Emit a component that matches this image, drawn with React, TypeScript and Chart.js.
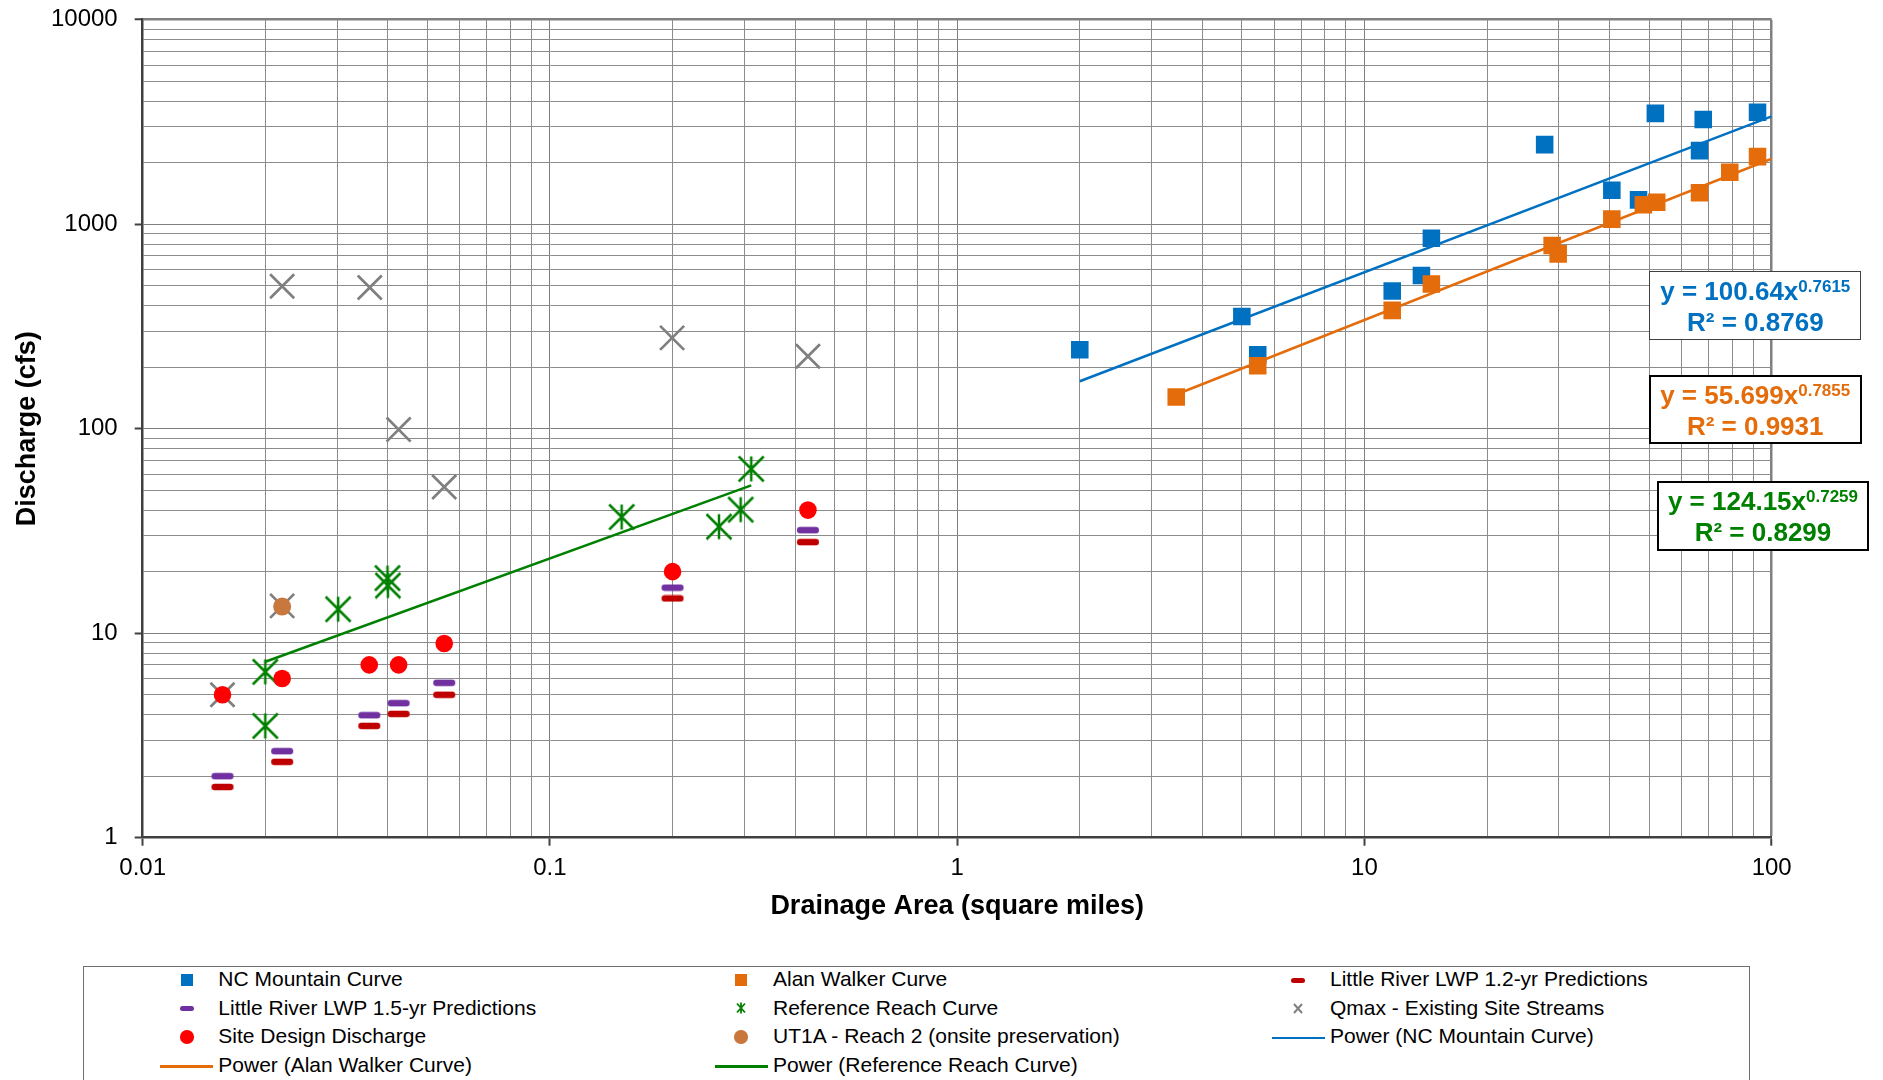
import React, { useEffect, useRef } from 'react';
import { Chart, registerables } from 'chart.js';

Chart.register(...registerables);

const FONT = '"Liberation Sans", Arial, Helvetica, sans-serif';
const W = 1883;
const H = 1080;

// ---------- data (drainage area in sq mi, discharge in cfs) ----------
const ncArea = [2.0, 5.0, 5.47, 11.7, 13.8, 14.6, 27.7, 40.5, 47.1, 51.8, 66.5, 67.9, 92.3];
const ncQ = [243, 354, 230, 471, 561, 853, 2450, 1466, 1315, 3483, 2290, 3253, 3530];

const awArea = [3.45, 5.47, 11.7, 14.6, 28.9, 29.9, 40.5, 48.4, 52.2, 66.5, 78.9, 92.3];
const awQ = [143, 203, 379, 510, 787, 716, 1059, 1245, 1280, 1426, 1795, 2140];

const siteArea = [0.0157, 0.022, 0.036, 0.0425, 0.055, 0.2, 0.43];
const lr12Q = [1.77, 2.35, 3.52, 4.03, 5.0, 14.8, 27.9];
const lr15Q = [2.0, 2.65, 3.97, 4.55, 5.72, 16.7, 31.9];
const siteQ = [5.0, 6.0, 7.0, 7.0, 8.9, 20, 40];

const refArea = [0.02, 0.02, 0.0302, 0.0399, 0.04, 0.15, 0.26, 0.294, 0.312];
const refQ = [6.47, 3.52, 13.1, 18.6, 17.1, 37.0, 33.2, 40.2, 63.6];

const qmaxArea = [0.0157, 0.022, 0.022, 0.0361, 0.0425, 0.055, 0.1995, 0.43];
const qmaxQ = [5.0, 13.6, 497, 490, 99, 51.9, 278, 226];

const ut1aArea = [0.022];
const ut1aQ = [13.5];

// trendline end points
const ncFitArea = [2.0, 100];
const ncFitQ = [170.6, 3370];
const awFitArea = [3.45, 100];
const awFitQ = [147, 2090];
const refFitArea = [0.02, 0.312];
const refFitQ = [7.25, 52.8];

// axes
const xDecades = [0.01, 0.1, 1, 10, 100];
const xDecadeLabels = ['0.01', '0.1', '1', '10', '100'];
const yDecades = [1, 10, 100, 1000, 10000];
const yDecadeLabels = ['1', '10', '100', '1000', '10000'];
const xTitle = 'Drainage Area (square miles)';
const yTitle = 'Discharge (cfs)';

// trendline equations
const fitCoef = ['100.64', '55.699', '124.15'];
const fitExp = ['0.7615', '0.7855', '0.7259'];
const fitR2 = ['0.8769', '0.9931', '0.8299'];

// legend
const legendLabels = [
  'NC Mountain Curve',
  'Alan Walker Curve',
  'Little River LWP 1.2-yr Predictions',
  'Little River LWP 1.5-yr Predictions',
  'Reference Reach Curve',
  'Qmax - Existing Site Streams',
  'Site Design Discharge',
  'UT1A - Reach 2 (onsite preservation)',
  'Power (NC Mountain Curve)',
  'Power (Alan Walker Curve)',
  'Power (Reference Reach Curve)',
];

const BLUE = '#0070C0';
const ORANGE = '#E46C0A';
const DKRED = '#C00000';
const PURPLE = '#7030A0';
const GREEN = '#008000';
const GRAY = '#808080';
const RED = '#FF0000';
const BROWN = '#C8783C';

const pts = (xs: number[], ys: number[]) => xs.map((x, i) => ({ x, y: ys[i] }));

function markerCanvas(w: number, h: number, draw: (c: CanvasRenderingContext2D) => void) {
  const cv = document.createElement('canvas');
  cv.width = w;
  cv.height = h;
  const c = cv.getContext('2d')!;
  draw(c);
  return cv;
}

function roundRectPath(c: CanvasRenderingContext2D, x: number, y: number, w: number, h: number, r: number) {
  c.beginPath();
  c.moveTo(x + r, y);
  c.lineTo(x + w - r, y);
  c.arc(x + w - r, y + r, r, -Math.PI / 2, 0);
  c.lineTo(x + w, y + h - r);
  c.arc(x + w - r, y + h - r, r, 0, Math.PI / 2);
  c.lineTo(x + r, y + h);
  c.arc(x + r, y + h - r, r, Math.PI / 2, Math.PI);
  c.lineTo(x, y + r);
  c.arc(x + r, y + r, r, Math.PI, Math.PI * 1.5);
  c.closePath();
}

const isIn = (arr: number[], v: number) => arr.some((d) => Math.abs(d - v) / d < 1e-9);

function logTicksBuilder(decades: number[]) {
  return (scale: any) => {
    const ticks: any[] = [];
    for (let i = 0; i < decades.length; i++) {
      const d = decades[i];
      ticks.push({ value: d, major: true });
      if (i === decades.length - 1) break;
      for (let m = 2; m < 10; m++) ticks.push({ value: parseFloat((d * m).toPrecision(6)), major: false });
    }
    scale.ticks = ticks;
  };
}

function axisOptions(decades: number[], labels: string[], isX: boolean) {
  const max = decades[decades.length - 1];
  return {
    type: 'logarithmic' as const,
    position: isX ? 'bottom' : 'left',
    min: decades[0],
    max,
    afterBuildTicks: logTicksBuilder(decades),
    afterFit: (scale: any) => {
      if (isX) {
        scale.height = 110;
        scale.paddingLeft = 0;
        scale.paddingRight = 0;
      } else {
        scale.width = 142.7;
        scale.paddingTop = 0;
        scale.paddingBottom = 0;
      }
    },
    border: { display: true, color: '#404040', width: 2.5 },
    grid: {
      drawTicks: true,
      tickLength: 8,
      tickWidth: 2,
      tickColor: (ctx: any) => (ctx.tick && isIn(decades, ctx.tick.value) ? '#404040' : 'rgba(0,0,0,0)'),
      color: (ctx: any) => {
        if (!ctx.tick) return '#8a8a8a';
        if (Math.abs(ctx.tick.value - max) / max < 1e-9) return '#808080';
        return isIn(decades, ctx.tick.value) ? '#808080' : '#8c8c8c';
      },
      lineWidth: (ctx: any) => (ctx.tick && Math.abs(ctx.tick.value - max) / max < 1e-9 ? 2.5 : 1),
    },
    ticks: {
      autoSkip: false,
      maxRotation: 0,
      minRotation: 0,
      padding: isX ? 8 : 17,
      color: '#000',
      font: { family: FONT, size: 24 },
      callback: (value: any) => {
        const idx = decades.findIndex((d) => Math.abs(d - value) / d < 1e-9);
        return idx >= 0 ? labels[idx] : '';
      },
    },
    title: {
      display: true,
      text: isX ? xTitle : yTitle,
      color: '#000',
      font: { family: FONT, size: 27, weight: 'bold' as const },
      padding: isX ? { top: 0, bottom: 24.5 } : { top: 11, bottom: 0 },
    },
  };
}

export default function App() {
  const ref = useRef<HTMLCanvasElement>(null);

  useEffect(() => {
    if (!ref.current) return;
    const asterisk = markerCanvas(28, 28, (c) => {
      c.strokeStyle = GREEN;
      c.lineWidth = 2.5;
      c.beginPath();
      c.moveTo(14, 1.5);
      c.lineTo(14, 26.5);
      c.moveTo(1.5, 1.5);
      c.lineTo(26.5, 26.5);
      c.moveTo(26.5, 1.5);
      c.lineTo(1.5, 26.5);
      c.stroke();
    });
    const dash = (color: string) =>
      markerCanvas(24, 8, (c) => {
        c.fillStyle = color;
        roundRectPath(c, 1, 0.75, 22, 6.5, 3);
        c.fill();
      });

    const n = 20;
    const chart = new Chart(ref.current, {
      type: 'scatter',
      data: {
        datasets: [
          { label: legendLabels[0], data: pts(ncArea, ncQ), pointStyle: 'rect', pointRadius: 12.4, pointBackgroundColor: BLUE, backgroundColor: BLUE, pointBorderWidth: 0, order: n - 0 },
          { label: legendLabels[1], data: pts(awArea, awQ), pointStyle: 'rect', pointRadius: 12.4, pointBackgroundColor: ORANGE, backgroundColor: ORANGE, pointBorderWidth: 0, order: n - 1 },
          { label: legendLabels[2], data: pts(siteArea, lr12Q), pointStyle: dash(DKRED), pointRadius: 11, order: n - 2 },
          { label: legendLabels[3], data: pts(siteArea, lr15Q), pointStyle: dash(PURPLE), pointRadius: 11, order: n - 3 },
          { label: legendLabels[4], data: pts(refArea, refQ), pointStyle: asterisk, pointRadius: 13, order: n - 4 },
          { label: legendLabels[5], data: pts(qmaxArea, qmaxQ), pointStyle: 'crossRot', pointRadius: 17, pointBorderColor: GRAY, borderColor: GRAY, pointBorderWidth: 2.7, order: n - 5 },
          { label: legendLabels[6], data: pts(siteArea, siteQ), pointStyle: 'circle', pointRadius: 8.8, pointBackgroundColor: RED, backgroundColor: RED, pointBorderWidth: 0, order: n - 6 },
          { label: legendLabels[7], data: pts(ut1aArea, ut1aQ), pointStyle: 'circle', pointRadius: 9, pointBackgroundColor: BROWN, backgroundColor: BROWN, pointBorderWidth: 0, order: n - 7 },
          { label: legendLabels[8], data: pts(ncFitArea, ncFitQ), showLine: true, borderColor: BLUE, borderWidth: 2.5, pointRadius: 0, fill: false, order: 1 },
          { label: legendLabels[9], data: pts(awFitArea, awFitQ), showLine: true, borderColor: ORANGE, borderWidth: 2.5, pointRadius: 0, fill: false, order: 1 },
          { label: legendLabels[10], data: pts(refFitArea, refFitQ), showLine: true, borderColor: GREEN, borderWidth: 2.5, pointRadius: 0, fill: false, order: 1 },
        ] as any,
      },
      options: {
        responsive: false,
        maintainAspectRatio: false,
        devicePixelRatio: 1,
        animation: false,
        events: [],
        layout: { padding: { left: 0, top: 19.3, right: 111.3, bottom: 132.3 } },
        plugins: { legend: { display: false }, tooltip: { enabled: false }, title: { display: false } },
        scales: {
          x: axisOptions(xDecades, xDecadeLabels, true) as any,
          y: axisOptions(yDecades, yDecadeLabels, false) as any,
        },
      },
    });
    return () => chart.destroy();
  }, []);

  const boxes = [
    { left: 1649.3, top: 271, width: 212, height: 69, color: BLUE, border: '1.5px solid #404040' },
    { left: 1648.7, top: 375, width: 213, height: 69.3, color: ORANGE, border: '2.5px solid #000' },
    { left: 1656.7, top: 480.7, width: 212.6, height: 70.3, color: GREEN, border: '2.5px solid #000' },
  ];

  const markerX = [187, 741, 1298];
  const textX = [218.3, 773, 1330];
  const rowY = (r: number) => 979.4 + 28.45 * r;

  const legendMarker = (i: number) => {
    const col = i % 3;
    const row = Math.floor(i / 3);
    const cx = markerX[col];
    const cy = rowY(row) + 0.6;
    const abs = (w: number, h: number, extra: React.CSSProperties): React.CSSProperties => ({
      position: 'absolute',
      left: cx - w / 2,
      top: cy - h / 2,
      width: w,
      height: h,
      ...extra,
    });
    switch (i) {
      case 0:
        return <div key={'m' + i} style={abs(12.7, 12.7, { background: BLUE })} />;
      case 1:
        return <div key={'m' + i} style={abs(12.7, 12.7, { background: ORANGE })} />;
      case 2:
        return <div key={'m' + i} style={abs(14, 5, { background: DKRED, borderRadius: 2.5 })} />;
      case 3:
        return <div key={'m' + i} style={abs(14, 5, { background: PURPLE, borderRadius: 2.5 })} />;
      case 4:
        return (
          <svg key={'m' + i} width={10} height={12} style={abs(10, 12, {}) as any}>
            <path d="M5 0.5 V11.5 M1 1.5 L9 10.5 M9 1.5 L1 10.5" stroke={GREEN} strokeWidth={1.8} fill="none" />
          </svg>
        );
      case 5:
        return (
          <svg key={'m' + i} width={10} height={11} style={abs(10, 11, {}) as any}>
            <path d="M1 1 L9 10 M9 1 L1 10" stroke={GRAY} strokeWidth={2} fill="none" />
          </svg>
        );
      case 6:
        return <div key={'m' + i} style={abs(13.5, 13.5, { background: RED, borderRadius: '50%' })} />;
      case 7:
        return <div key={'m' + i} style={abs(13.5, 13.5, { background: BROWN, borderRadius: '50%' })} />;
      default: {
        const color = i === 8 ? BLUE : i === 9 ? ORANGE : GREEN;
        const x0 = textX[col] - 58;
        return (
          <div
            key={'m' + i}
            style={{ position: 'absolute', left: x0, top: rowY(row) + 1.7 - 1.25, width: 52.7, height: 2.5, background: color }}
          />
        );
      }
    }
  };

  return (
    <div
      style={{
        position: 'absolute',
        left: 0,
        top: 0,
        width: W,
        height: H,
        overflow: 'hidden',
        background: '#fff',
        fontFamily: FONT,
      }}
    >
      <canvas ref={ref} width={W} height={H} style={{ position: 'absolute', left: 0, top: 0, width: W, height: H }} />

      {boxes.map((b, i) => (
        <React.Fragment key={'b' + i}>
          <div
            style={{
              position: 'absolute',
              left: b.left,
              top: b.top,
              width: b.width,
              height: b.height,
              border: b.border,
              boxSizing: 'border-box',
              background: '#fff',
            }}
          />
          <div
            style={{
              position: 'absolute',
              left: b.left,
              top: b.top + 4.8,
              width: b.width,
              textAlign: 'center',
              fontSize: 26,
              lineHeight: '30px',
              fontWeight: 'bold',
              color: b.color,
              whiteSpace: 'nowrap',
            }}
          >
            {'y = ' + fitCoef[i] + 'x'}
            <span style={{ fontSize: 17, position: 'relative', top: -8, lineHeight: '17px' }}>{fitExp[i]}</span>
          </div>
          <div
            style={{
              position: 'absolute',
              left: b.left,
              top: b.top + 36.3,
              width: b.width,
              textAlign: 'center',
              fontSize: 26,
              lineHeight: '30px',
              fontWeight: 'bold',
              color: b.color,
              whiteSpace: 'nowrap',
            }}
          >
            {'R² = ' + fitR2[i]}
          </div>
        </React.Fragment>
      ))}

      <div
        style={{
          position: 'absolute',
          left: 83.3,
          top: 966,
          width: 1667.2,
          height: 140,
          border: '1.5px solid #6e6e6e',
          boxSizing: 'border-box',
          background: '#fff',
        }}
      />
      {legendLabels.map((lab, i) => {
        const col = i % 3;
        const row = Math.floor(i / 3);
        return (
          <React.Fragment key={'l' + i}>
            {legendMarker(i)}
            <div
              style={{
                position: 'absolute',
                left: textX[col],
                top: rowY(row) - 12,
                fontSize: 21,
                lineHeight: '24px',
                color: '#000',
                whiteSpace: 'nowrap',
              }}
            >
              {lab}
            </div>
          </React.Fragment>
        );
      })}
    </div>
  );
}
